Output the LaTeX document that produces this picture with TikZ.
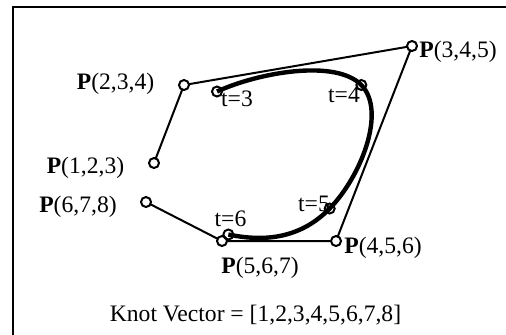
\documentclass[tikz,border=0pt]{standalone}
\usepackage{fontspec}
\setmainfont{Liberation Serif}
\usetikzlibrary{calc}
\begin{document}
\begin{tikzpicture}[x=0.5pt,y=-0.5pt,
  ctrl/.style={draw,line width=1pt,circle,fill=white,inner sep=0pt,minimum size=5pt},
  tmark/.style={draw,line width=1pt,circle,inner sep=0pt,minimum size=5pt},
  poly/.style={line width=1pt},
  curve/.style={line width=2.2pt},
  lab/.style={font=\fontsize{11.8}{14}\selectfont,inner sep=0pt,anchor=center}]
\useasboundingbox (0,0) rectangle (506,334);
\draw[line width=1.3pt] (13,340) -- (13,7) -- (520,7);
% control points
\coordinate (p1) at (154,163);
\coordinate (p2) at (184,85);
\coordinate (p3) at (412,46);
\coordinate (p4) at (336,241);
\coordinate (p5) at (222,241);
\coordinate (p6) at (146,202);
% control polygon
\draw[poly] (p1) -- (p2) -- (p3) -- (p4) -- (p5) -- (p6);
% cubic B-spline
\draw[curve]
  ($0.16667*(p1)+0.66667*(p2)+0.16667*(p3)$)
  .. controls ($0.66667*(p2)+0.33333*(p3)$) and ($0.33333*(p2)+0.66667*(p3)$)
  .. ($0.16667*(p2)+0.66667*(p3)+0.16667*(p4)$)
  .. controls ($0.66667*(p3)+0.33333*(p4)$) and ($0.33333*(p3)+0.66667*(p4)$)
  .. ($0.16667*(p3)+0.66667*(p4)+0.16667*(p5)$)
  .. controls ($0.66667*(p4)+0.33333*(p5)$) and ($0.33333*(p4)+0.66667*(p5)$)
  .. ($0.16667*(p4)+0.66667*(p5)+0.16667*(p6)$);
% control point circles
\foreach \p in {p1,p2,p3,p4,p5,p6} \node[ctrl] (c\p) at (\p) {};
% parameter marks
\node[tmark] (t3) at ($0.16667*(p1)+0.66667*(p2)+0.16667*(p3)$) {};
\node[tmark] (t4) at ($0.16667*(p2)+0.66667*(p3)+0.16667*(p4)$) {};
\node[tmark] (t5) at ($0.16667*(p3)+0.66667*(p4)+0.16667*(p5)$) {};
\node[tmark] (t6) at ($0.16667*(p4)+0.66667*(p5)+0.16667*(p6)$) {};
% labels
\node[lab] (l1) at (85.5,168) {\textbf{P}(1,2,3)};
\node[lab] (l2) at (115.5,84) {\textbf{P}(2,3,4)};
\node[lab] (l3) at (458,51.5) {\textbf{P}(3,4,5)};
\node[lab] (l4) at (383,247.5) {\textbf{P}(4,5,6)};
\node[lab] (l5) at (260,268) {\textbf{P}(5,6,7)};
\node[lab] (l6) at (78,206.5) {\textbf{P}(6,7,8)};
\node[lab] (lt3) at (237,99) {t=3};
\node[lab] (lt4) at (344,94.5) {t=4};
\node[lab] (lt5) at (314,204) {t=5};
\node[lab] (lt6) at (230.5,219) {t=6};
\node[lab] (knot) at (255.5,315) {Knot Vector = [1,2,3,4,5,6,7,8]};
\end{tikzpicture}
\end{document}
